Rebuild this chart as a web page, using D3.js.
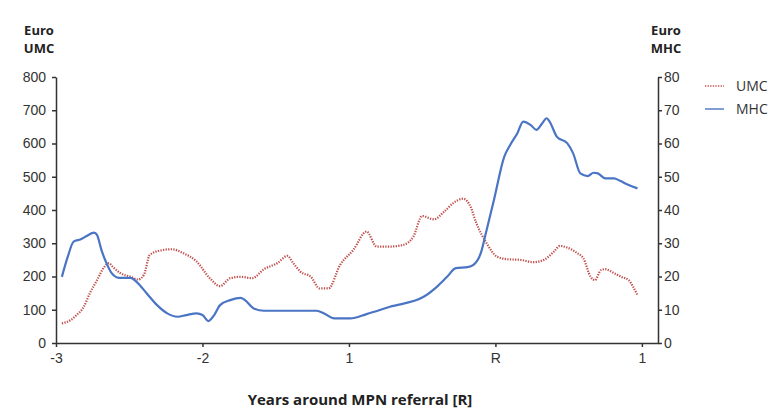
<!DOCTYPE html>
<html>
<head>
<meta charset="utf-8">
<script src="https://cdn.jsdelivr.net/npm/d3@7"></script>
<style>
  html, body { margin: 0; padding: 0; background: #ffffff; }
  svg { display: block; font-family: "Open Sans", "Liberation Sans", sans-serif; }
  .axis path, .axis line { stroke: #333; stroke-width: 1.5; }
  .axis text { fill: #333; font-size: 14px; }
</style>
</head>
<body>
<svg id="chart" width="778" height="409"></svg>
<script>
// Years around MPN referral (R = 0)
const umcYears = [-2.96,-2.90,-2.86,-2.81,-2.77,-2.72,-2.67,-2.64,-2.61,-2.56,-2.49,-2.44,-2.40,-2.36,-2.29,-2.21,-2.13,-2.04,-1.95,-1.88,-1.81,-1.74,-1.66,-1.58,-1.49,-1.42,-1.38,-1.33,-1.26,-1.20,-1.14,-1.06,-0.97,-0.88,-0.81,-0.72,-0.63,-0.56,-0.50,-0.42,-0.35,-0.29,-0.22,-0.17,-0.13,-0.06,0.01,0.08,0.17,0.26,0.33,0.40,0.44,0.49,0.56,0.60,0.65,0.68,0.72,0.75,0.81,0.86,0.91,0.94,0.97];
// Euro, UMC (left axis)
const umcValues = [59,69,84,109,149,189,229,240,228,210,199,191,205,265,278,282,270,245,195,171,195,199,195,222,240,262,240,214,199,164,164,235,280,335,290,290,295,320,382,372,395,420,434,410,360,300,260,252,250,243,250,275,292,287,270,255,199,189,219,222,210,199,189,169,144];

const mhcYears = [-2.96,-2.92,-2.88,-2.83,-2.79,-2.74,-2.72,-2.69,-2.65,-2.62,-2.57,-2.49,-2.45,-2.38,-2.31,-2.24,-2.17,-2.11,-2.04,-2.00,-1.96,-1.92,-1.88,-1.81,-1.74,-1.71,-1.65,-1.58,-1.33,-1.22,-1.17,-1.10,-0.99,-0.88,-0.72,-0.49,-0.40,-0.33,-0.27,-0.19,-0.15,-0.10,-0.06,-0.01,0.06,0.10,0.15,0.19,0.24,0.28,0.32,0.35,0.37,0.42,0.49,0.53,0.58,0.63,0.67,0.70,0.75,0.81,0.85,0.91,0.97];
// Euro, MHC (right axis)
const mhcValues = [19.9,25.9,30.5,31.2,32.2,33.2,32.5,28.0,23.5,21.0,19.6,19.6,18.4,14.9,11.4,8.9,7.9,8.4,8.9,8.4,6.6,8.4,11.4,12.9,13.6,12.9,10.4,9.7,9.7,9.7,8.9,7.4,7.4,8.7,10.9,13.9,16.9,19.9,22.5,22.8,23.5,27.0,34.0,43.0,56.0,59.5,63.1,66.6,65.6,64.1,66.1,67.6,66.6,62.0,60.1,57.1,51.0,50.2,51.2,51.0,49.5,49.5,48.8,47.5,46.5];

const xTicks = [-3, -2, -1, 0, 1];
const xTickLabels = ["-3", "-2", "1", "R", "1"];
const leftTicks = [0, 100, 200, 300, 400, 500, 600, 700, 800];
const rightTicks = [0, 10, 20, 30, 40, 50, 60, 70, 80];
const seriesNames = ["UMC", "MHC"];
const seriesColors = ["#c0504d", "#4a74c4"];

const svg = d3.select("#chart");

const x = d3.scaleLinear().domain([-3, 1.11]).range([56, 658]);
const yL = d3.scaleLinear().domain([0, 800]).range([343, 77]);
const yR = d3.scaleLinear().domain([0, 80]).range([343, 77]);

// Axes
svg.append("g").attr("class", "axis")
  .attr("transform", `translate(0,${yL(0)})`)
  .call(d3.axisBottom(x).tickValues(xTicks)
    .tickFormat((d, i) => xTickLabels[i]).tickSize(4).tickSizeOuter(0).tickPadding(6));

svg.append("g").attr("class", "axis")
  .attr("transform", `translate(${x.range()[0]},0)`)
  .call(d3.axisLeft(yL).tickValues(leftTicks).tickSize(4).tickSizeOuter(0).tickPadding(6));

svg.append("g").attr("class", "axis")
  .attr("transform", `translate(${x.range()[1]},0)`)
  .call(d3.axisRight(yR).tickValues(rightTicks).tickSize(4).tickSizeOuter(0).tickPadding(2));

// Lines
const umcData = umcYears.map((t, i) => [t, umcValues[i]]);
const mhcData = mhcYears.map((t, i) => [t, mhcValues[i]]);

svg.append("path")
  .datum(umcData)
  .attr("fill", "none")
  .attr("stroke", seriesColors[0])
  .attr("stroke-width", 2.2)
  .attr("stroke-dasharray", "1.3,1.3")
  .attr("d", d3.line().x(d => x(d[0])).y(d => yL(d[1])).curve(d3.curveMonotoneX));

svg.append("path")
  .datum(mhcData)
  .attr("fill", "none")
  .attr("stroke", seriesColors[1])
  .attr("stroke-width", 2.2)
  .attr("d", d3.line().x(d => x(d[0])).y(d => yR(d[1])).curve(d3.curveMonotoneX));

// Axis titles
const titleStyle = (sel, size) => sel.attr("font-size", size).attr("font-weight", "bold")
  .attr("fill", "#222").attr("text-anchor", "middle");
svg.append("text").attr("x", 39).attr("y", 35).text("Euro").call(titleStyle, 13);
svg.append("text").attr("x", 39).attr("y", 53).text("UMC").call(titleStyle, 13);
svg.append("text").attr("x", 666).attr("y", 35).text("Euro").call(titleStyle, 13);
svg.append("text").attr("x", 666).attr("y", 53).text("MHC").call(titleStyle, 13);
svg.append("text").attr("x", 360).attr("y", 405).text("Years around MPN referral [R]").call(titleStyle, 15);

// Legend
const legend = svg.append("g");
seriesNames.forEach((name, i) => {
  const ly = 86 + i * 23;
  const ln = legend.append("line")
    .attr("x1", 705).attr("x2", 724).attr("y1", ly).attr("y2", ly)
    .attr("stroke", seriesColors[i]).attr("stroke-width", i === 0 ? 1.6 : 1.4);
  if (i === 0) ln.attr("stroke-dasharray", "1.3,1.3");
  legend.append("text").attr("x", 736).attr("y", ly + 5)
    .attr("font-size", 14).attr("fill", "#333").text(name);
});
</script>
</body>
</html>
